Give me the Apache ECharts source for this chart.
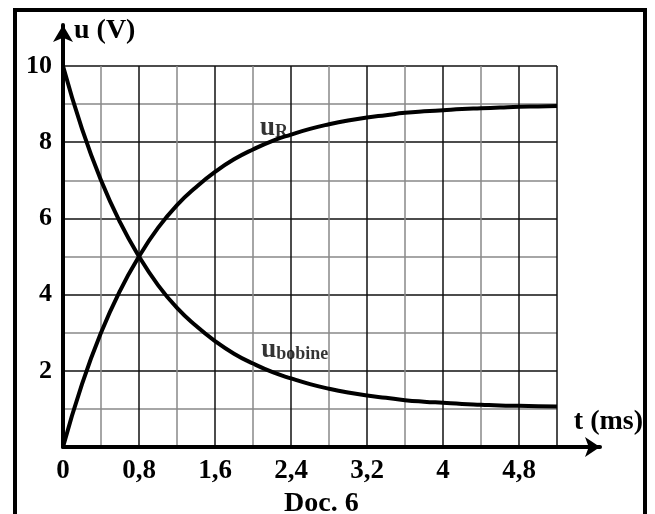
<!DOCTYPE html>
<html>
<head>
<meta charset="utf-8">
<script src="https://cdn.jsdelivr.net/npm/echarts@6/dist/echarts.min.js"></script>
<style>
html,body{margin:0;padding:0;background:#fff;}
#chart{width:655px;height:514px;}
</style>
</head>
<body>
<div id="chart"></div>
<script>
// time (ms)
const tValues = [0, 0.2, 0.4, 0.6, 0.8, 1.0, 1.2, 1.4, 1.6, 1.8, 2.0, 2.2, 2.4, 2.6, 2.8, 3.0, 3.2, 3.4, 3.6, 3.8, 4.0, 4.2, 4.4, 4.6, 4.8, 5.0, 5.2];
// u_bobine (V)
const uBobine = [10, 8.35, 7.0, 5.9, 5.0, 4.25, 3.65, 3.18, 2.78, 2.45, 2.19, 1.97, 1.8, 1.65, 1.53, 1.43, 1.35, 1.29, 1.23, 1.19, 1.16, 1.13, 1.11, 1.09, 1.08, 1.07, 1.06];
// u_R (V)
const uR = [0, 1.65, 3.0, 4.1, 5.0, 5.75, 6.35, 6.82, 7.22, 7.55, 7.81, 8.03, 8.2, 8.35, 8.47, 8.57, 8.65, 8.71, 8.77, 8.81, 8.84, 8.87, 8.89, 8.91, 8.93, 8.94, 8.95];
// tick labels
const xTickLabels = ['0', '0,8', '1,6', '2,4', '3,2', '4', '4,8'];
const yTickLabels = ['', '2', '4', '6', '8', '10'];
// curve annotations (data coordinates)
const labelR = [2.22, 8.37];
const labelBobine = [2.44, 2.55];

const FONT = 'Liberation Serif';
const chart = echarts.init(document.getElementById('chart'), null, {renderer: 'canvas'});

const xLineColors = ['#111','#888','#111','#888','#111','#888','#111','#888','#111','#888','#111','#888','#111','#111'];
const yLineColors = ['#111','#888'];

const option = {
  backgroundColor: '#fff',
  animation: false,
  title: {
    text: 'Doc. 6',
    left: 284, top: 490, padding: 0,
    textStyle: {fontFamily: FONT, fontWeight: 'bold', fontSize: 28, color: '#000'}
  },
  graphic: [{
    type: 'rect', silent: true,
    shape: {x: 15, y: 10, width: 630, height: 600},
    style: {fill: 'none', stroke: '#000', lineWidth: 4}
  }],
  grid: [
    {left: 63, right: 98, top: 66, bottom: 67},
    {left: 63, right: 55, top: 25, bottom: 67}
  ],
  xAxis: [
    {
      gridIndex: 0, type: 'value', min: 0, max: 5.2, interval: 0.4,
      axisLine: {show: false}, axisTick: {show: false},
      splitLine: {show: true, lineStyle: {color: xLineColors, width: 1.5}},
      axisLabel: {
        margin: 11,
        fontFamily: FONT, fontWeight: 'bold', fontSize: 27, color: '#000',
        formatter: function (v) {
          const k = v / 0.8;
          const r = Math.round(k);
          return Math.abs(k - r) < 1e-6 && r < xTickLabels.length ? xTickLabels[r] : '';
        }
      }
    },
    {
      gridIndex: 1, type: 'value', min: 0, max: 1,
      axisLine: {show: true, symbol: ['none', 'arrow'], symbolSize: [15, 15], lineStyle: {color: '#000', width: 4}},
      axisTick: {show: false}, axisLabel: {show: false}, splitLine: {show: false},
      name: 't (ms)', nameLocation: 'end', nameGap: 43,
      nameTextStyle: {fontFamily: FONT, fontWeight: 'bold', fontSize: 28, color: '#000', align: 'right', verticalAlign: 'bottom', padding: [0, 0, 11, 0]}
    }
  ],
  yAxis: [
    {
      gridIndex: 0, type: 'value', min: 0, max: 10, interval: 1,
      axisLine: {show: false}, axisTick: {show: false},
      splitLine: {show: true, lineStyle: {color: yLineColors, width: 1.5}},
      axisLabel: {
        margin: 11,
        fontFamily: FONT, fontWeight: 'bold', fontSize: 26, color: '#000',
        padding: [6, 0, 0, 0],
        formatter: function (v) {
          const k = v / 2;
          const r = Math.round(k);
          return Math.abs(k - r) < 1e-6 && r < yTickLabels.length ? yTickLabels[r] : '';
        }
      }
    },
    {
      gridIndex: 1, type: 'value', min: 0, max: 1,
      axisLine: {show: true, symbol: ['none', 'arrow'], symbolSize: [15, 17], lineStyle: {color: '#000', width: 4}},
      axisTick: {show: false}, axisLabel: {show: false}, splitLine: {show: false},
      name: 'u (V)', nameLocation: 'end', nameGap: 8,
      nameTextStyle: {fontFamily: FONT, fontWeight: 'bold', fontSize: 28, color: '#000', align: 'left', verticalAlign: 'top', padding: [0, 0, 0, 11]}
    }
  ],
  series: [
    {
      type: 'line', xAxisIndex: 0, yAxisIndex: 0, smooth: true, showSymbol: false, symbol: 'none',
      lineStyle: {color: '#000', width: 4},
      data: tValues.map((t, i) => [t, uBobine[i]]),
      z: 5
    },
    {
      type: 'line', xAxisIndex: 0, yAxisIndex: 0, smooth: true, showSymbol: false, symbol: 'none',
      lineStyle: {color: '#000', width: 4},
      data: tValues.map((t, i) => [t, uR[i]]),
      z: 5
    },
    {
      type: 'scatter', xAxisIndex: 0, yAxisIndex: 0, symbolSize: 0, silent: true, z: 6,
      data: [
        {value: labelR, label: {formatter: '{u|u}{s|R}'}},
        {value: labelBobine, label: {formatter: '{u|u}{s|bobine}'}}
      ],
      label: {
        show: true, position: 'inside',
        rich: {
          u: {fontFamily: FONT, fontWeight: 'bold', fontSize: 27, color: '#000'},
          s: {fontFamily: FONT, fontWeight: 'bold', fontSize: 18, color: '#000', padding: [8, 0, 0, 0]}
        }
      }
    }
  ]
};
chart.setOption(option);
</script>
</body>
</html>
